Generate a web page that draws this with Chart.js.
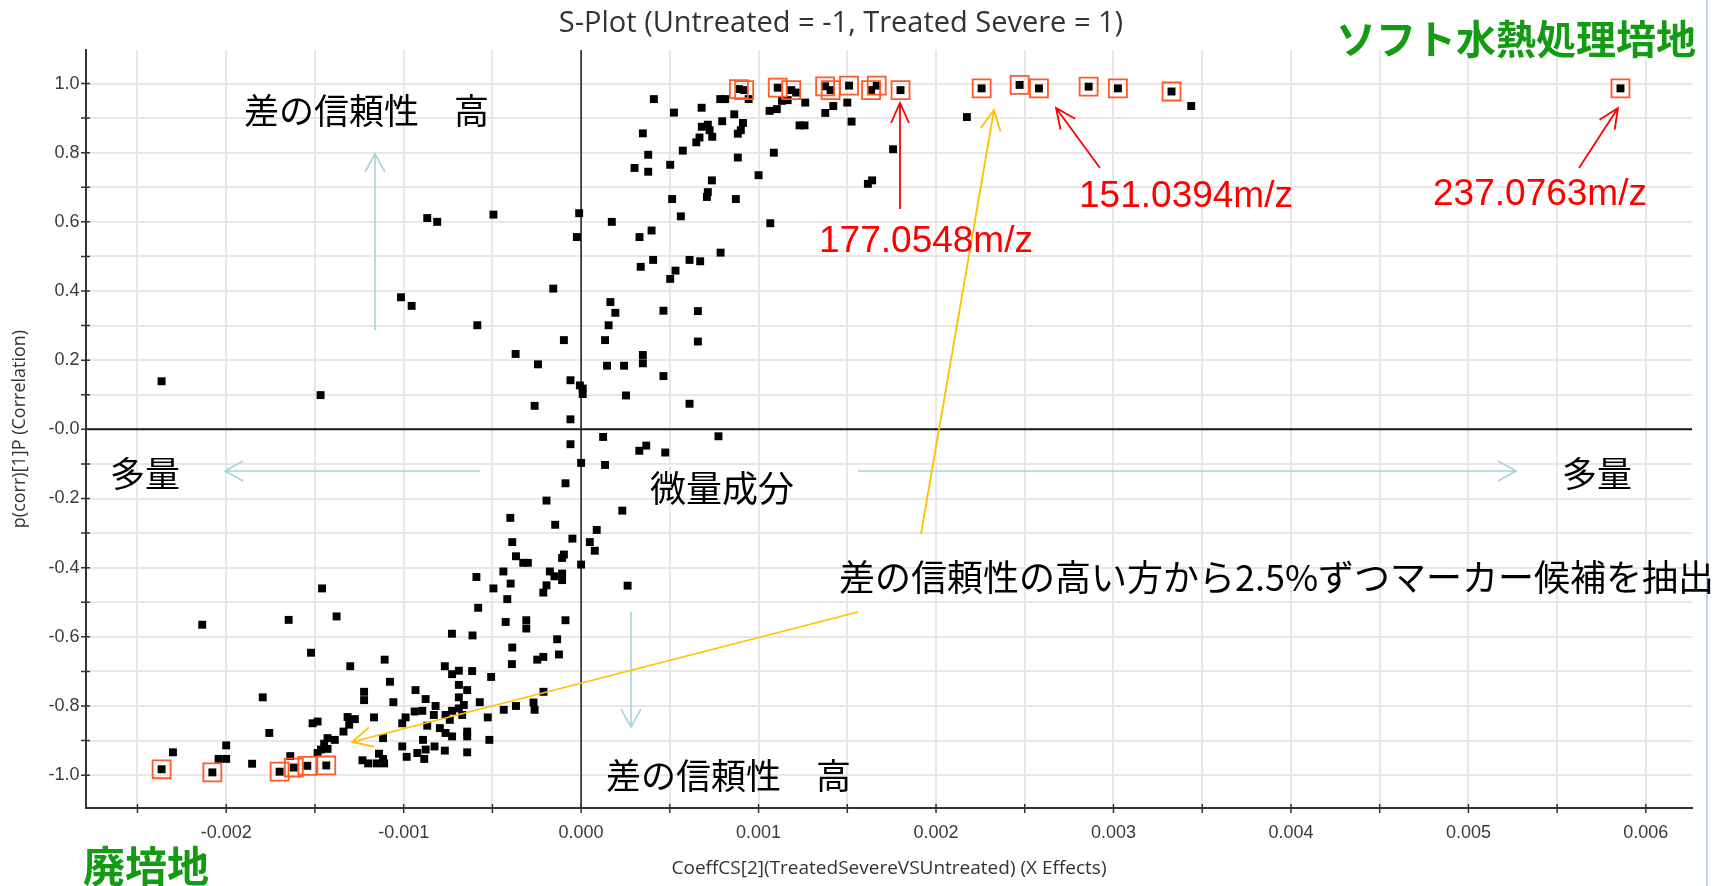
<!DOCTYPE html>
<html>
<head>
<meta charset="utf-8">
<script src="https://cdn.jsdelivr.net/npm/chart.js@4.4.1/dist/chart.umd.min.js"></script>
<style>
  html, body { margin: 0; padding: 0; background: #fff; }
</style>
</head>
<body>
<canvas id="splot" width="1719" height="886"></canvas>
<script>
// S-plot values: [coeffCS, p(corr)]
const treatedSide = [
  [0.00041, 0.955], [0.000523, 0.916], [0.000679, 0.93], [0.000348, 0.856], [0.000378, 0.794],
  [0.000301, 0.756], [0.000378, 0.745], [0.000502, 0.765], [0.000573, 0.806], [0.000649, 0.83],
  [0.000667, 0.844], [0.00068, 0.875], [0.000714, 0.881], [0.000724, 0.865], [0.000739, 0.846],
  [0.000784, 0.955], [0.000812, 0.955], [0.000795, 0.891], [0.000863, 0.911], [0.000912, 0.886],
  [0.0009, 0.865], [0.000883, 0.855], [0.000883, 0.786], [0.000889, 0.984], [0.000919, 0.981],
  [0.000944, 0.955], [0.001108, 0.988], [0.001184, 0.981], [0.001212, 0.974], [0.001132, 0.95],
  [0.001164, 0.952], [0.001103, 0.926], [0.001062, 0.921], [0.001263, 0.945], [0.001231, 0.879],
  [0.001259, 0.879], [0.001376, 0.915], [0.001375, 0.992], [0.001086, 0.8], [0.001, 0.735],
  [0.000737, 0.72], [0.000714, 0.686], [0.000709, 0.672], [0.000872, 0.666], [0.000513, 0.666],
  [0.000562, 0.616], [0.001066, 0.596], [0.000173, 0.6], [-0.000011, 0.625], [-0.000024, 0.556],
  [0.000329, 0.556], [0.000397, 0.575], [0.000336, 0.47], [0.000406, 0.49], [0.000611, 0.49],
  [0.000671, 0.486], [0.000786, 0.511], [0.000532, 0.459], [0.000502, 0.435], [0.000165, 0.368],
  [0.001406, 0.981], [0.00151, 0.994], [0.001421, 0.935], [0.0015, 0.945], [0.001524, 0.89],
  [0.001634, 0.981], [0.001666, 0.994], [0.0018, 0.981], [0.001758, 0.81], [0.001616, 0.71],
  [0.00164, 0.72], [0.002174, 0.903], [0.002257, 0.986], [0.002471, 0.996], [0.00258, 0.986],
  [0.00286, 0.991], [0.003025, 0.986], [0.003327, 0.977], [0.003438, 0.935], [0.005857, 0.986]
];

const middleBand = [
  [-0.000867, 0.611], [-0.000811, 0.6], [-0.000494, 0.621], [-0.000157, 0.407], [0.000193, 0.337],
  [0.000464, 0.343], [0.000155, 0.301], [-0.000585, 0.301], [-0.000097, 0.258], [0.000135, 0.258],
  [0.000348, 0.215], [0.000348, 0.191], [-0.000369, 0.218], [-0.000243, 0.188], [0.000146, 0.184],
  [0.000242, 0.184], [0.000464, 0.154], [-0.00006, 0.142], [-0.000007, 0.127], [0.000009, 0.118],
  [0.000009, 0.102], [0.000253, 0.098], [-0.000262, 0.068], [-0.00006, 0.029], [0.000124, -0.022],
  [-0.00006, -0.043], [0.000367, -0.047], [0.000328, -0.062], [0.000474, -0.067], [0, -0.097],
  [0.000135, -0.103], [-0.001015, 0.382], [-0.000955, 0.357], [-0.002364, 0.139], [-0.001468, 0.099],
  [0.000658, 0.342], [0.000658, 0.254], [0.000611, 0.074], [0.000774, -0.02],
  [-0.000088, -0.156], [-0.000195, -0.206], [-0.000399, -0.256], [-0.000146, -0.276], [0.000232, -0.235],
  [0.000088, -0.291], [-0.000049, -0.316], [0.000049, -0.326], [0.000077, -0.351], [-0.000388, -0.326],
  [-0.000367, -0.367], [-0.000326, -0.386], [-0.0003, -0.386], [-0.000097, -0.362], [-0.000107, -0.372],
  [0, -0.391], [-0.000438, -0.411], [-0.00059, -0.427], [-0.000176, -0.411], [-0.00015, -0.425],
  [-0.000107, -0.417], [-0.000107, -0.436], [-0.000195, -0.451], [-0.000213, -0.472], [-0.000397, -0.446],
  [-0.000494, -0.46], [-0.000416, -0.491], [0.000262, -0.452], [-0.00146, -0.46]
];

const untreatedSide = [
  [-0.00058, -0.516], [-0.000425, -0.557], [-0.000309, -0.552], [-0.000309, -0.576], [-0.000088, -0.552],
  [-0.000728, -0.591], [-0.000612, -0.596], [-0.000135, -0.607], [-0.000388, -0.631], [-0.000125, -0.651],
  [-0.000213, -0.658], [-0.000247, -0.666], [-0.002135, -0.565], [-0.001648, -0.551], [-0.001378, -0.541],
  [-0.001522, -0.646], [-0.001301, -0.685], [-0.001107, -0.666], [-0.00039, -0.679], [-0.001794, -0.775],
  [-0.001223, -0.759], [-0.001223, -0.783], [-0.001077, -0.73], [-0.001058, -0.789], [-0.000933, -0.754],
  [-0.000876, -0.78], [-0.000768, -0.685], [-0.000727, -0.708], [-0.000689, -0.698], [-0.000614, -0.699],
  [-0.000507, -0.716], [-0.000689, -0.739], [-0.000642, -0.754], [-0.000689, -0.775], [-0.000571, -0.789],
  [-0.00082, -0.8], [-0.00083, -0.826], [-0.000938, -0.816], [-0.000895, -0.814], [-0.000989, -0.833],
  [-0.001008, -0.85], [-0.000764, -0.826], [-0.000727, -0.814], [-0.000689, -0.807], [-0.000661, -0.797],
  [-0.00067, -0.826], [-0.00074, -0.84], [-0.000436, -0.811], [-0.000367, -0.8], [-0.000268, -0.79],
  [-0.000262, -0.811], [-0.000526, -0.833], [-0.000212, -0.759], [-0.000867, -0.857], [-0.000796, -0.864],
  [-0.000764, -0.878], [-0.000727, -0.888], [-0.000642, -0.874], [-0.000642, -0.888], [-0.000517, -0.898],
  [-0.000891, -0.898], [-0.000826, -0.917], [-0.000876, -0.926], [-0.000923, -0.936], [-0.000884, -0.953],
  [-0.000768, -0.929], [-0.000642, -0.934], [-0.000983, -0.947], [-0.001008, -0.917], [-0.001116, -0.893],
  [-0.001167, -0.833], [-0.001316, -0.832], [-0.001275, -0.838], [-0.001307, -0.854], [-0.001339, -0.874],
  [-0.001388, -0.898], [-0.001429, -0.893], [-0.001448, -0.909], [-0.001466, -0.926], [-0.001429, -0.924],
  [-0.001485, -0.936], [-0.001513, -0.85], [-0.001485, -0.845], [-0.001757, -0.878], [-0.002, -0.914],
  [-0.0023, -0.934], [-0.002043, -0.953], [-0.002, -0.953], [-0.001854, -0.967], [-0.001639, -0.945],
  [-0.001232, -0.957], [-0.0012, -0.966], [-0.001152, -0.966], [-0.00111, -0.966], [-0.001139, -0.938],
  [-0.001116, -0.953], [-0.002364, -0.983], [-0.002078, -0.992], [-0.001699, -0.99], [-0.001619, -0.978],
  [-0.001543, -0.973], [-0.001436, -0.972]
];

// marker candidates (boxed in orange)
const markerTop = [
  [0.000889, 0.984], [0.000919, 0.981], [0.001108, 0.988], [0.001184, 0.981], [0.001375, 0.992],
  [0.001406, 0.981], [0.00151, 0.994], [0.001634, 0.981], [0.001666, 0.994], [0.0018, 0.981],
  [0.002257, 0.986], [0.002471, 0.996], [0.00258, 0.986], [0.00286, 0.991], [0.003025, 0.986],
  [0.003327, 0.977], [0.005857, 0.986]
];
const markerBottom = [
  [-0.002364, -0.983], [-0.002078, -0.992], [-0.001699, -0.99], [-0.001619, -0.978],
  [-0.001543, -0.973], [-0.001436, -0.972]
];

const xTicks = [-0.0025, -0.002, -0.0015, -0.001, -0.0005, 0, 0.0005, 0.001, 0.0015,
  0.002, 0.0025, 0.003, 0.0035, 0.004, 0.0045, 0.005, 0.0055, 0.006];
const xTickLabels = ['', '-0.002', '', '-0.001', '', '0.000', '', '0.001', '',
  '0.002', '', '0.003', '', '0.004', '', '0.005', '', '0.006'];
const yTicks = [-1.0, -0.9, -0.8, -0.7, -0.6, -0.5, -0.4, -0.3, -0.2, -0.1, 0,
  0.1, 0.2, 0.3, 0.4, 0.5, 0.6, 0.7, 0.8, 0.9, 1.0];
const yTickLabels = ['-1.0', '', '-0.8', '', '-0.6', '', '-0.4', '', '-0.2', '', '-0.0',
  '', '0.2', '', '0.4', '', '0.6', '', '0.8', '', '1.0'];

const toXY = arr => arr.map(([x, y]) => ({ x, y }));

function arrow(ctx, x1, y1, x2, y2, color, width, head, half) {
  const dx = x2 - x1, dy = y2 - y1, len = Math.hypot(dx, dy);
  const ux = dx / len, uy = dy / len;
  ctx.strokeStyle = color;
  ctx.lineWidth = width;
  ctx.beginPath();
  ctx.moveTo(x1, y1);
  ctx.lineTo(x2, y2);
  ctx.moveTo(x2 - ux * head - uy * half, y2 - uy * head + ux * half);
  ctx.lineTo(x2, y2);
  ctx.lineTo(x2 - ux * head + uy * half, y2 - uy * head - ux * half);
  ctx.stroke();
}

function text(ctx, str, x, y, font, color, align) {
  ctx.font = font;
  ctx.fillStyle = color;
  ctx.textAlign = align || 'left';
  ctx.textBaseline = 'middle';
  ctx.fillText(str, x, y);
}

// zero lines and the small tick marks crossing the axes
const axisExtras = {
  id: 'axisExtras',
  beforeDatasetsDraw(chart) {
    const { ctx, chartArea: a, scales: { x, y } } = chart;
    ctx.save();
    ctx.strokeStyle = '#1a1a1a';
    ctx.lineWidth = 2;
    ctx.beginPath();
    const y0 = y.getPixelForValue(0);
    ctx.moveTo(a.left, y0);
    ctx.lineTo(a.right, y0);
    ctx.stroke();
    ctx.lineWidth = 1.5;
    ctx.beginPath();
    const x0 = x.getPixelForValue(0);
    ctx.moveTo(x0, a.top);
    ctx.lineTo(x0, a.bottom);
    ctx.stroke();

    ctx.strokeStyle = '#333';
    ctx.lineWidth = 1.5;
    ctx.beginPath();
    xTicks.forEach(v => {
      const p = x.getPixelForValue(v);
      ctx.moveTo(p, a.bottom - 4);
      ctx.lineTo(p, a.bottom + 5);
    });
    yTicks.forEach(v => {
      const p = y.getPixelForValue(v);
      ctx.moveTo(a.left - 5, p);
      ctx.lineTo(a.left + 4, p);
    });
    ctx.stroke();
    ctx.restore();
  }
};

// titles, comments and arrows placed over the plot
const overlay = {
  id: 'overlay',
  afterDraw(chart) {
    const ctx = chart.ctx;
    const a = chart.chartArea;
    ctx.save();

    // frame line on the right
    ctx.strokeStyle = '#a8c3ea';
    ctx.lineWidth = 1.5;
    ctx.beginPath();
    ctx.moveTo(1707, 0);
    ctx.lineTo(1707, 886);
    ctx.stroke();

    text(ctx, 'S-Plot (Untreated = -1, Treated Severe = 1)', 841, 24, '29px "Open Sans"', '#333', 'center');

    text(ctx, 'CoeffCS[2](TreatedSevereVSUntreated) (X Effects)', (a.left + a.right) / 2, 869,
      '19px "Open Sans"', '#333', 'center');
    ctx.save();
    ctx.translate(20, (a.top + a.bottom) / 2);
    ctx.rotate(-Math.PI / 2);
    text(ctx, 'p(corr)[1]P (Correlation)', 0, 0, '18px "Open Sans"', '#333', 'center');
    ctx.restore();

    // light blue direction arrows
    const blue = '#a6d4d9';
    arrow(ctx, 375, 330, 375, 154, blue, 1.6, 18, 10);
    arrow(ctx, 480, 471, 225, 471, blue, 1.6, 18, 10);
    arrow(ctx, 858, 471, 1516, 471, blue, 1.6, 18, 10);
    arrow(ctx, 631, 612, 631, 727, blue, 1.6, 18, 10);

    // orange pointers to the extracted candidates
    const orange = '#ffc000';
    arrow(ctx, 921, 534, 994, 110, orange, 1.8, 20, 10);
    arrow(ctx, 858, 612, 352, 742, orange, 1.8, 20, 10);

    // red pointers to the named ions
    const red = '#ff0000';
    arrow(ctx, 900, 209, 900, 103, red, 1.8, 20, 9);
    arrow(ctx, 1100, 168, 1056, 108, red, 1.8, 20, 9);
    arrow(ctx, 1579, 168, 1618, 108, red, 1.8, 20, 9);

    const jp = '"Noto Sans CJK JP"';
    text(ctx, '差の信頼性　高', 244, 111, '35px ' + jp, '#000');
    text(ctx, '差の信頼性　高', 606, 776, '35px ' + jp, '#000');
    text(ctx, '多量', 110, 474, '35px ' + jp, '#000');
    text(ctx, '多量', 1562, 474, '35px ' + jp, '#000');
    text(ctx, '微量成分', 650, 488, '36px ' + jp, '#000');
    text(ctx, '差の信頼性の高い方から2.5%ずつマーカー候補を抽出', 839, 577, '36px ' + jp, '#000');

    const green = '#149b14';
    text(ctx, 'ソフト水熱処理培地', 1336, 39, 'bold 40px ' + jp, green);
    text(ctx, '廃培地', 83, 866, 'bold 42px ' + jp, green);

    const lab = '37px "Liberation Sans"';
    text(ctx, '177.0548m/z', 926, 242, lab, red, 'center');
    text(ctx, '151.0394m/z', 1186, 197, lab, red, 'center');
    text(ctx, '237.0763m/z', 1540, 195, lab, red, 'center');

    ctx.restore();
  }
};

const tickFont = { family: 'Liberation Sans', size: 18 };

new Chart(document.getElementById('splot'), {
  type: 'scatter',
  data: {
    datasets: [
      {
        label: 'marker candidates',
        data: toXY(markerTop.concat(markerBottom)),
        pointStyle: 'rect',
        pointRadius: 12.7,
        backgroundColor: 'rgba(0,0,0,0)',
        borderColor: '#ff5a28',
        borderWidth: 1.8
      },
      {
        label: 'variables',
        data: toXY(treatedSide.concat(middleBand, untreatedSide)),
        pointStyle: 'rect',
        pointRadius: 5.6,
        backgroundColor: '#000',
        borderWidth: 0
      }
    ]
  },
  options: {
    responsive: false,
    animation: false,
    events: [],
    layout: { padding: { top: 50, right: 27, left: 0, bottom: 0 } },
    plugins: {
      legend: { display: false },
      title: { display: false },
      tooltip: { enabled: false }
    },
    scales: {
      x: {
        type: 'linear',
        min: -0.00279,
        max: 0.00626,
        afterBuildTicks: s => { s.ticks = xTicks.map(v => ({ value: v })); },
        afterFit: s => { s.height = 78; },
        ticks: {
          autoSkip: false,
          maxRotation: 0,
          padding: 14,
          font: tickFont,
          color: '#3a3a3a',
          callback: (v, i) => xTickLabels[i]
        },
        grid: { color: '#e8e8e8', lineWidth: 2, drawTicks: false },
        border: { display: true, color: '#333', width: 2 }
      },
      y: {
        type: 'linear',
        min: -1.095,
        max: 1.097,
        afterBuildTicks: s => { s.ticks = yTicks.map(v => ({ value: v })); },
        afterFit: s => { s.width = 86; },
        ticks: {
          autoSkip: false,
          padding: 6.5,
          font: tickFont,
          color: '#3a3a3a',
          callback: (v, i) => yTickLabels[i]
        },
        grid: { color: '#e8e8e8', lineWidth: 2, drawTicks: false },
        border: { display: true, color: '#333', width: 2 }
      }
    }
  },
  plugins: [axisExtras, overlay]
});
</script>
</body>
</html>
